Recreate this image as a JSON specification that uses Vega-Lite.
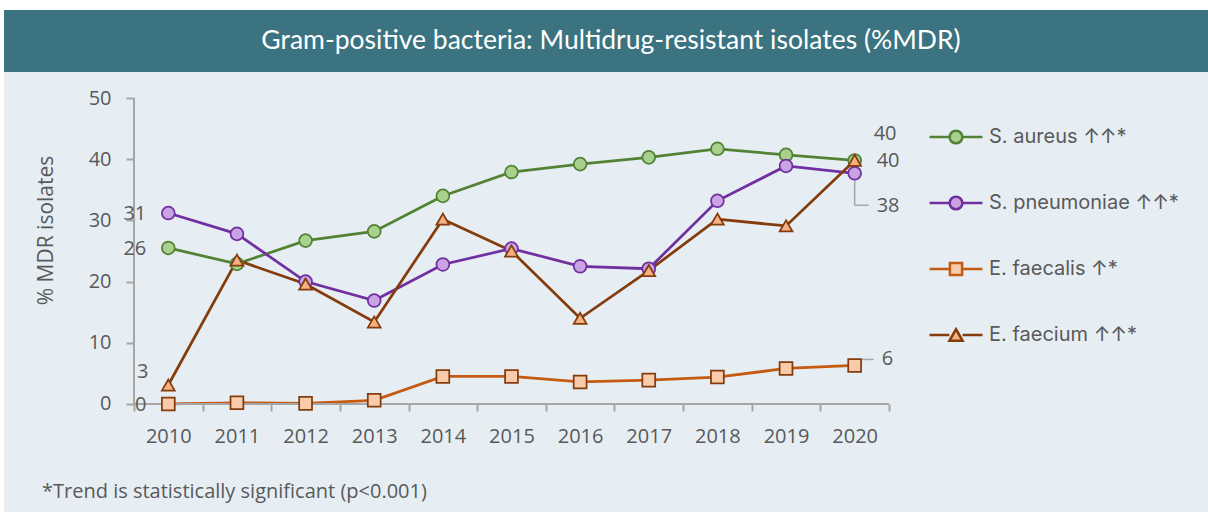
{
  "$schema": "https://vega.github.io/schema/vega-lite/v6.json",
  "background": "white",
  "padding": {"left": 4, "top": 10, "right": 0, "bottom": 3},
  "spacing": 0,
  "config": {"view": {"stroke": null}, "font": "Open Sans"},
  "datasets": {
    "heading": [{"t": "Gram-positive bacteria: Multidrug-resistant isolates (%MDR)"}],
    "mdr": [
      {"year": 2010, "series": "S. aureus ↑↑*", "value": 25.5},
      {"year": 2011, "series": "S. aureus ↑↑*", "value": 22.9},
      {"year": 2012, "series": "S. aureus ↑↑*", "value": 26.7},
      {"year": 2013, "series": "S. aureus ↑↑*", "value": 28.2},
      {"year": 2014, "series": "S. aureus ↑↑*", "value": 34.0},
      {"year": 2015, "series": "S. aureus ↑↑*", "value": 37.9},
      {"year": 2016, "series": "S. aureus ↑↑*", "value": 39.2},
      {"year": 2017, "series": "S. aureus ↑↑*", "value": 40.3},
      {"year": 2018, "series": "S. aureus ↑↑*", "value": 41.7},
      {"year": 2019, "series": "S. aureus ↑↑*", "value": 40.7},
      {"year": 2020, "series": "S. aureus ↑↑*", "value": 39.8},
      {"year": 2010, "series": "S. pneumoniae ↑↑*", "value": 31.2},
      {"year": 2011, "series": "S. pneumoniae ↑↑*", "value": 27.8},
      {"year": 2012, "series": "S. pneumoniae ↑↑*", "value": 20.0},
      {"year": 2013, "series": "S. pneumoniae ↑↑*", "value": 16.9},
      {"year": 2014, "series": "S. pneumoniae ↑↑*", "value": 22.8},
      {"year": 2015, "series": "S. pneumoniae ↑↑*", "value": 25.4},
      {"year": 2016, "series": "S. pneumoniae ↑↑*", "value": 22.5},
      {"year": 2017, "series": "S. pneumoniae ↑↑*", "value": 22.1},
      {"year": 2018, "series": "S. pneumoniae ↑↑*", "value": 33.2},
      {"year": 2019, "series": "S. pneumoniae ↑↑*", "value": 38.9},
      {"year": 2020, "series": "S. pneumoniae ↑↑*", "value": 37.7},
      {"year": 2010, "series": "E. faecalis ↑*", "value": 0.0},
      {"year": 2011, "series": "E. faecalis ↑*", "value": 0.2},
      {"year": 2012, "series": "E. faecalis ↑*", "value": 0.1},
      {"year": 2013, "series": "E. faecalis ↑*", "value": 0.6},
      {"year": 2014, "series": "E. faecalis ↑*", "value": 4.5},
      {"year": 2015, "series": "E. faecalis ↑*", "value": 4.5},
      {"year": 2016, "series": "E. faecalis ↑*", "value": 3.6},
      {"year": 2017, "series": "E. faecalis ↑*", "value": 3.9},
      {"year": 2018, "series": "E. faecalis ↑*", "value": 4.4},
      {"year": 2019, "series": "E. faecalis ↑*", "value": 5.8},
      {"year": 2020, "series": "E. faecalis ↑*", "value": 6.3},
      {"year": 2010, "series": "E. faecium ↑↑*", "value": 3.1},
      {"year": 2011, "series": "E. faecium ↑↑*", "value": 23.5},
      {"year": 2012, "series": "E. faecium ↑↑*", "value": 19.6},
      {"year": 2013, "series": "E. faecium ↑↑*", "value": 13.4},
      {"year": 2014, "series": "E. faecium ↑↑*", "value": 30.2},
      {"year": 2015, "series": "E. faecium ↑↑*", "value": 25.0},
      {"year": 2016, "series": "E. faecium ↑↑*", "value": 14.0},
      {"year": 2017, "series": "E. faecium ↑↑*", "value": 21.8},
      {"year": 2018, "series": "E. faecium ↑↑*", "value": 30.2},
      {"year": 2019, "series": "E. faecium ↑↑*", "value": 29.1},
      {"year": 2020, "series": "E. faecium ↑↑*", "value": 39.8}
    ]
  },
  "vconcat": [
    {
      "width": 1204,
      "height": 62,
      "view": {"fill": "#3b7380", "stroke": null},
      "data": {"name": "heading"},
      "mark": {"type": "text", "color": "white", "font": "Lato", "fontSize": 26.5, "align": "center", "baseline": "middle", "dx": 5},
      "encoding": {"text": {"field": "t", "type": "nominal"}}
    },
    {
      "width": 1204,
      "height": 440,
      "view": {"fill": "#e6eef4", "stroke": null},
      "data": {"name": "mdr"},
      "title": {
        "text": "*Trend is statistically significant (p<0.001)",
        "orient": "bottom", "anchor": "start", "frame": "group",
        "offset": -30, "dx": 38,
        "font": "Open Sans", "fontSize": 20, "fontWeight": "normal", "color": "#595959"
      },
      "resolve": {"scale": {"stroke": "independent"}},
      "layer": [
        {
          "mark": {"type": "line", "strokeWidth": 2.75},
          "encoding": {
            "x": {
              "field": "year", "type": "quantitative",
              "scale": {"domain": [2007.606, 2025.148], "nice": false, "zero": false},
              "axis": {
                "orient": "bottom", "offset": -108, "zindex": 1,
                "values": [2009.5, 2010.5, 2011.5, 2012.5, 2013.5, 2014.5, 2015.5, 2016.5, 2017.5, 2018.5, 2019.5, 2020.5],
                "domain": false, "grid": false,
                "ticks": true, "tickSize": 7, "tickColor": "#a6a6a6", "tickWidth": 2,
                "labelExpr": "datum.value > 2020 ? '' : format(datum.value + 0.5, 'd')",
                "labelOffset": 34.3, "labelPadding": 15,
                "labelFont": "Open Sans", "labelFontSize": 20, "labelColor": "#595959",
                "labelOverlap": false, "labelBound": false, "labelFlush": false,
                "title": null
              }
            },
            "y": {
              "field": "value", "type": "quantitative",
              "scale": {"domain": [-17.65, 54.25], "nice": false, "zero": false},
              "axis": {
                "orient": "left", "offset": -130, "zindex": 1,
                "values": [0, 10, 20, 30, 40, 50],
                "domain": false, "grid": false,
                "ticks": true, "tickSize": 8, "tickColor": "#a6a6a6", "tickWidth": 2,
                "labelPadding": 15, "labelFont": "Open Sans", "labelFontSize": 20, "labelColor": "#595959",
                "labelFlush": false, "labelOverlap": false,
                "title": "% MDR isolates", "titleFont": "Open Sans", "titleFontSize": 21,
                "titleFontWeight": "normal", "titleColor": "#595959", "titlePadding": 32, "titleY": 158
              }
            },
            "stroke": {
              "field": "series", "type": "nominal",
              "scale": {
                "domain": ["S. aureus ↑↑*", "S. pneumoniae ↑↑*", "E. faecalis ↑*", "E. faecium ↑↑*"],
                "range": ["#548235", "#7030a0", "#c55a11", "#843c0c"]
              },
              "legend": {
                "title": null, "orient": "none", "legendX": 924, "legendY": 37,
                "padding": 0, "rowPadding": 26, "labelOffset": 5,
                "labelFont": "Inter", "labelFontSize": 20, "labelColor": "#595959", "labelLimit": 400,
                "symbolSize": 2809, "symbolStrokeWidth": 2.5,
                "encode": {
                  "symbols": {
                    "update": {
                      "shape": {"signal": "indexof(datum.value,'faecalis')>=0 ? 'M-1,0H-0.23M0.23,0H1M-0.23,-0.23H0.23V0.23H-0.23Z' : indexof(datum.value,'faecium')>=0 ? 'M-1,0H-0.25M0.25,0H1M0,-0.22L0.25,0.22H-0.25Z' : 'M-1,0H-0.24M0.24,0H1M0.24,0A0.24,0.24,0,1,1,-0.24,0A0.24,0.24,0,1,1,0.24,0Z'"},
                      "fill": {"signal": "indexof(datum.value,'faecalis')>=0 ? '#f8cbad' : indexof(datum.value,'faecium')>=0 ? '#f4b183' : indexof(datum.value,'aureus')>=0 ? '#a9d18e' : '#c9a3e3'"},
                      "opacity": {"value": 1},
                      "fillOpacity": {"value": 1}
                    }
                  }
                }
              }
            }
          }
        },
        {
          "data": {"values": [{}]},
          "mark": {"type": "rule", "color": "#a6a6a6", "strokeWidth": 2},
          "encoding": {
            "x": {"datum": 2009.5, "type": "quantitative"},
            "y": {"datum": 0, "type": "quantitative"},
            "y2": {"datum": 50}
          }
        },
        {
          "data": {"values": [{}]},
          "mark": {"type": "rule", "color": "#a6a6a6", "strokeWidth": 2},
          "encoding": {
            "x": {"datum": 2009.5, "type": "quantitative"},
            "x2": {"datum": 2020.5},
            "y": {"datum": 0, "type": "quantitative"}
          }
        },
        {
          "transform": [{"filter": "datum.year == 2020 && indexof(datum.series,'pneumoniae') >= 0"}],
          "mark": {"type": "rule", "color": "#a6a6a6", "strokeWidth": 1.5, "yOffset": 7, "y2Offset": 32},
          "encoding": {
            "x": {"field": "year", "type": "quantitative"},
            "y": {"field": "value", "type": "quantitative"},
            "y2": {"field": "value"}
          }
        },
        {
          "transform": [{"filter": "datum.year == 2020 && indexof(datum.series,'pneumoniae') >= 0"}],
          "mark": {"type": "rule", "color": "#a6a6a6", "strokeWidth": 1.5, "yOffset": 32, "x2Offset": 14},
          "encoding": {
            "x": {"field": "year", "type": "quantitative"},
            "x2": {"field": "year"},
            "y": {"field": "value", "type": "quantitative"}
          }
        },
        {
          "transform": [{"filter": "datum.year == 2020 && indexof(datum.series,'faecalis') >= 0"}],
          "mark": {"type": "rule", "color": "#a6a6a6", "strokeWidth": 1.5, "xOffset": 1, "x2Offset": 7, "yOffset": 0, "y2Offset": -6},
          "encoding": {
            "x": {"field": "year", "type": "quantitative"},
            "x2": {"field": "year"},
            "y": {"field": "value", "type": "quantitative"},
            "y2": {"field": "value"}
          }
        },
        {
          "transform": [{"filter": "datum.year == 2020 && indexof(datum.series,'faecalis') >= 0"}],
          "mark": {"type": "rule", "color": "#a6a6a6", "strokeWidth": 1.5, "xOffset": 7, "x2Offset": 19, "yOffset": -6},
          "encoding": {
            "x": {"field": "year", "type": "quantitative"},
            "x2": {"field": "year"},
            "y": {"field": "value", "type": "quantitative"}
          }
        },
        {
          "mark": {"type": "point", "filled": true, "size": 165, "strokeWidth": 1.75, "opacity": 1},
          "encoding": {
            "x": {"field": "year", "type": "quantitative"},
            "y": {"field": "value", "type": "quantitative"},
            "shape": {
              "field": "series", "type": "nominal",
              "scale": {
                "domain": ["S. aureus ↑↑*", "S. pneumoniae ↑↑*", "E. faecalis ↑*", "E. faecium ↑↑*"],
                "range": ["circle", "circle", "square", "triangle-up"]
              },
              "legend": null
            },
            "fill": {
              "field": "series", "type": "nominal",
              "scale": {
                "domain": ["S. aureus ↑↑*", "S. pneumoniae ↑↑*", "E. faecalis ↑*", "E. faecium ↑↑*"],
                "range": ["#a9d18e", "#c9a3e3", "#f8cbad", "#f4b183"]
              },
              "legend": null
            },
            "stroke": {
              "field": "series", "type": "nominal",
              "scale": {
                "domain": ["S. aureus ↑↑*", "S. pneumoniae ↑↑*", "E. faecalis ↑*", "E. faecium ↑↑*"],
                "range": ["#548235", "#7030a0", "#843c0c", "#843c0c"]
              },
              "legend": null
            }
          }
        },
        {
          "transform": [{"filter": "datum.year == 2010 && indexof(datum.series,'faecium') < 0"}],
          "mark": {"type": "text", "align": "right", "baseline": "middle", "dx": -22, "dy": 1, "fontSize": 20, "color": "#595959"},
          "encoding": {
            "x": {"field": "year", "type": "quantitative"},
            "y": {"field": "value", "type": "quantitative"},
            "text": {"field": "value", "type": "quantitative", "format": ".0f"}
          }
        },
        {
          "transform": [{"filter": "datum.year == 2010 && indexof(datum.series,'faecium') >= 0"}],
          "mark": {"type": "text", "align": "right", "baseline": "middle", "dx": -20, "dy": -13, "fontSize": 20, "color": "#595959"},
          "encoding": {
            "x": {"field": "year", "type": "quantitative"},
            "y": {"field": "value", "type": "quantitative"},
            "text": {"field": "value", "type": "quantitative", "format": ".0f"}
          }
        },
        {
          "transform": [{"filter": "datum.year == 2020 && indexof(datum.series,'aureus') >= 0"}],
          "mark": {"type": "text", "align": "left", "baseline": "middle", "dx": 19, "dy": -26, "fontSize": 20, "color": "#595959"},
          "encoding": {
            "x": {"field": "year", "type": "quantitative"},
            "y": {"field": "value", "type": "quantitative"},
            "text": {"field": "value", "type": "quantitative", "format": ".0f"}
          }
        },
        {
          "transform": [{"filter": "datum.year == 2020 && indexof(datum.series,'faecium') >= 0"}],
          "mark": {"type": "text", "align": "left", "baseline": "middle", "dx": 22, "dy": 1, "fontSize": 20, "color": "#595959"},
          "encoding": {
            "x": {"field": "year", "type": "quantitative"},
            "y": {"field": "value", "type": "quantitative"},
            "text": {"field": "value", "type": "quantitative", "format": ".0f"}
          }
        },
        {
          "transform": [{"filter": "datum.year == 2020 && indexof(datum.series,'pneumoniae') >= 0"}],
          "mark": {"type": "text", "align": "left", "baseline": "middle", "dx": 22, "dy": 33, "fontSize": 20, "color": "#595959"},
          "encoding": {
            "x": {"field": "year", "type": "quantitative"},
            "y": {"field": "value", "type": "quantitative"},
            "text": {"field": "value", "type": "quantitative", "format": ".0f"}
          }
        },
        {
          "transform": [{"filter": "datum.year == 2020 && indexof(datum.series,'faecalis') >= 0"}],
          "mark": {"type": "text", "align": "left", "baseline": "middle", "dx": 27, "dy": -6, "fontSize": 20, "color": "#595959"},
          "encoding": {
            "x": {"field": "year", "type": "quantitative"},
            "y": {"field": "value", "type": "quantitative"},
            "text": {"field": "value", "type": "quantitative", "format": ".0f"}
          }
        }
      ]
    }
  ]
}
